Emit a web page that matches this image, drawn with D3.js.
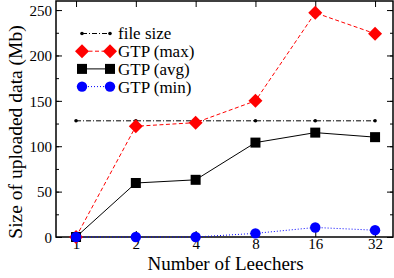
<!DOCTYPE html>
<html>
<head>
<meta charset="utf-8">
<script src="https://cdn.jsdelivr.net/npm/d3@7"></script>
<style>
  body { margin: 0; background: white; }
  svg { display: block; }
</style>
</head>
<body>
<svg id="chart" width="394" height="278"></svg>
<script>
// number of leechers on the x axis
var leechers = [1, 2, 4, 8, 16, 32];
var fileSize = [128, 128, 128, 128, 128, 128];
var gtpMax = [0, 122, 126, 150, 247, 224];
var gtpAvg = [0, 59.5, 63, 104, 115, 110];
var gtpMin = [0, 0, 0, 4, 10.5, 7.5];
var yTicks = [0, 50, 100, 150, 200, 250];
var legendNames = ["file size", "GTP (max)", "GTP (avg)", "GTP (min)"];

var svg = d3.select('#chart');
var width = 394, height = 278;
var margin = { left: 56, right: 1, top: 1, bottom: 41 };
var innerW = width - margin.left - margin.right;
var innerH = height - margin.top - margin.bottom;
var font = "'Liberation Serif', 'Times New Roman', serif";

var g = svg.append('g')
    .attr('transform', `translate(${margin.left}, ${margin.top})`);

var xScale = d3.scaleLog().base(2)
    .domain([Math.pow(2, -0.335), Math.pow(2, 5.3)])
    .range([0, innerW]);
var yScale = d3.scaleLinear()
    .domain([0, 260])
    .range([innerH, 0]);

var minor = d3.range(0, 261, 25);

// left axis, ticks inside
var leftAxis = g.append('g').call(d3.axisRight(yScale).tickValues(minor).tickSize(3).tickFormat(''));
leftAxis.select('.domain').remove();
var leftMajor = g.append('g').call(d3.axisRight(yScale).tickValues(yTicks).tickSize(6).tickFormat(d3.format('d')));
leftMajor.select('.domain').remove();
leftMajor.selectAll('.tick text')
    .attr('x', -4).attr('text-anchor', 'end').attr('dy', '0.35em');

// right axis, ticks inside
var rightAxis = g.append('g').attr('transform', `translate(${innerW},0)`)
    .call(d3.axisLeft(yScale).tickValues(minor).tickSize(3).tickFormat(''));
rightAxis.select('.domain').remove();
var rightMajor = g.append('g').attr('transform', `translate(${innerW},0)`)
    .call(d3.axisLeft(yScale).tickValues(yTicks).tickSize(6).tickFormat(''));
rightMajor.select('.domain').remove();

// bottom axis
var bottomAxis = g.append('g').attr('transform', `translate(0,${innerH})`)
    .call(d3.axisTop(xScale).tickValues(leechers).tickSize(6).tickFormat(d3.format('d')));
bottomAxis.select('.domain').remove();
bottomAxis.selectAll('.tick text')
    .attr('y', 11.5).attr('dy', 0);

// top axis
var topAxis = g.append('g')
    .call(d3.axisBottom(xScale).tickValues(leechers).tickSize(6).tickFormat(''));
topAxis.select('.domain').remove();

g.selectAll('.tick line').style('stroke', 'black').style('stroke-width', 1);
g.selectAll('.tick text')
    .attr('font-family', null).attr('font-size', null)
    .style('font-family', font).style('font-size', '15px').style('fill', 'black');

// frame
g.append('rect')
    .attr('width', innerW).attr('height', innerH)
    .style('fill', 'none').style('stroke', 'black').style('stroke-width', 1.5);

function series(vals) {
    return leechers.map((d, i) => ({ x: d, y: vals[i] }));
}
var line = d3.line().x(d => xScale(d.x)).y(d => yScale(d.y));

var styles = [
    { data: fileSize, color: 'black', dash: '5,2,1,2', marker: 'dot' },
    { data: gtpMax, color: 'red', dash: '4,2.5', marker: 'diamond' },
    { data: gtpAvg, color: 'black', dash: null, marker: 'square' },
    { data: gtpMin, color: 'blue', dash: '1,2', marker: 'circle' }
];

function drawMarker(sel, kind, color) {
    if (kind === 'dot') {
        sel.append('circle').attr('r', 1.8).style('fill', color);
    } else if (kind === 'diamond') {
        sel.append('path').attr('d', 'M0,-7L7,0L0,7L-7,0Z').style('fill', color);
    } else if (kind === 'square') {
        sel.append('rect').attr('x', -5).attr('y', -5).attr('width', 10).attr('height', 10).style('fill', color);
    } else {
        sel.append('circle').attr('r', 5.2).style('fill', color);
    }
}

var plot = g.append('g');
styles.forEach(s => {
    plot.append('path')
        .datum(series(s.data))
        .style('fill', 'none')
        .style('stroke', s.color)
        .style('stroke-width', 1)
        .style('stroke-dasharray', s.dash)
        .attr('d', line);
});
styles.forEach(s => {
    series(s.data).forEach(d => {
        var m = plot.append('g').attr('transform', `translate(${xScale(d.x)},${yScale(d.y)})`);
        drawMarker(m, s.marker, s.color);
    });
});

// legend
var legend = svg.append('g');
styles.forEach((s, i) => {
    var y = 33.5 + i * 17.7;
    var row = legend.append('g').attr('transform', `translate(0,${y})`);
    row.append('line')
        .attr('x1', 82).attr('x2', 110)
        .style('stroke', s.color).style('stroke-width', 1)
        .style('stroke-dasharray', s.dash);
    drawMarker(row.append('g').attr('transform', 'translate(82,0)'), s.marker, s.color);
    drawMarker(row.append('g').attr('transform', 'translate(110,0)'), s.marker, s.color);
    row.append('text')
        .attr('x', 118).attr('dy', '0.35em')
        .style('font-family', font).style('font-size', '17px')
        .text(legendNames[i]);
});

// axis titles
svg.append('text')
    .attr('x', margin.left + innerW / 2 + 1).attr('y', 269.5)
    .attr('text-anchor', 'middle')
    .style('font-family', font).style('font-size', '19px')
    .text('Number of Leechers');
svg.append('text')
    .attr('transform', `translate(22, ${margin.top + 131}) rotate(-90)`)
    .attr('text-anchor', 'middle')
    .style('font-family', font).style('font-size', '19.5px')
    .text('Size of uploaded data (Mb)');
</script>
</body>
</html>
